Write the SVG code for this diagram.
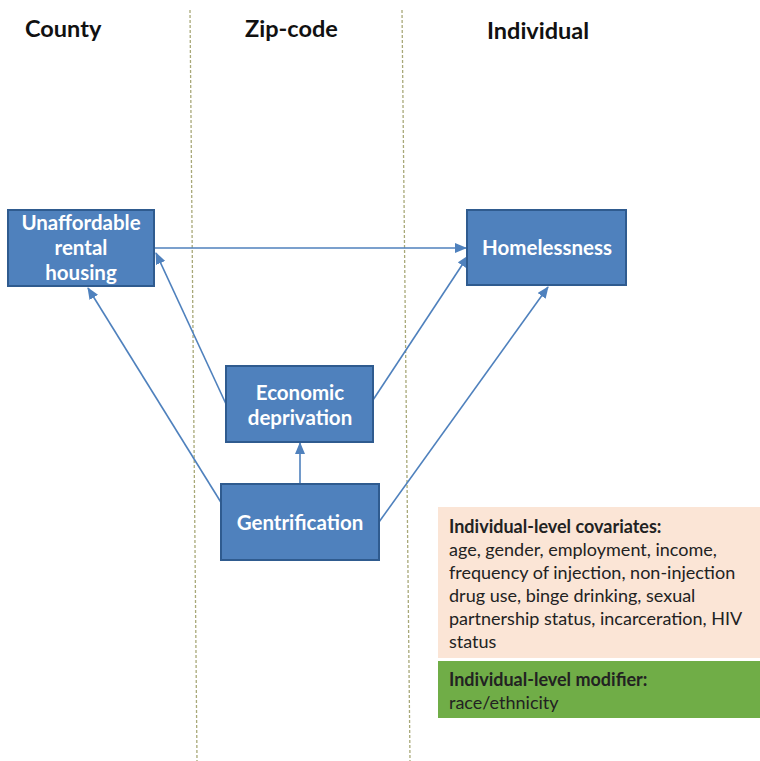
<svg xmlns="http://www.w3.org/2000/svg" width="760" height="761" viewBox="0 0 760 761">
<style>
.hdr{font-family:Lato,"Liberation Sans",sans-serif;font-weight:bold;font-size:23.5px;fill:#111}
.box{fill:#4f81bd;stroke:#2f5b8f;stroke-width:2}
.bt{font-family:Lato,"Liberation Sans",sans-serif;font-weight:bold;font-size:20.5px;fill:#fff;text-anchor:middle}
.ln{stroke:#4f81bd;stroke-width:1.6;fill:none;marker-end:url(#ah)}
.dv{stroke:#a8a878;stroke-width:1.3;stroke-dasharray:3 2;fill:none}
.ct{font-family:Lato,"Liberation Sans",sans-serif;font-size:18px;fill:#222}
.cb{font-weight:bold}
</style>
<defs>
<marker id="ah" viewBox="0 0 12 10" refX="11" refY="5" markerWidth="12" markerHeight="10" markerUnits="userSpaceOnUse" orient="auto">
<path d="M0,0 L12,5 L0,10 Z" fill="#4f81bd"/>
</marker>
</defs>
<rect width="760" height="761" fill="#fff"/>
<g id="dividers">
<line class="dv" x1="190" y1="10" x2="197" y2="761"/>
<line class="dv" x1="402" y1="10" x2="410" y2="761"/>
</g>
<g id="headers">
<text class="hdr" x="25" y="37">County</text>
<text class="hdr" x="245" y="37">Zip-code</text>
<text class="hdr" x="487" y="39">Individual</text>
</g>
<g id="connectors">
<line class="ln" x1="154" y1="248" x2="466" y2="248"/>
<line class="ln" x1="222" y1="504" x2="88" y2="288"/>
<line class="ln" x1="226" y1="404" x2="156" y2="253"/>
<line class="ln" x1="373" y1="400" x2="468" y2="256"/>
<line class="ln" x1="379" y1="522" x2="548" y2="287"/>
<line class="ln" x1="300" y1="484" x2="300" y2="443"/>
</g>
<g id="n-unaffordable">
<rect class="box" x="8" y="210" width="146" height="76"/>
<text class="bt" x="81" y="230">Unaffordable</text>
<text class="bt" x="81" y="255">rental</text>
<text class="bt" x="81" y="280">housing</text>
</g>
<g id="n-homelessness">
<rect class="box" x="467" y="210" width="159" height="75"/>
<text class="bt" x="547" y="255" font-size="21.5">Homelessness</text>
</g>
<g id="n-economic">
<rect class="box" x="226" y="366" width="147" height="76"/>
<text class="bt" x="300" y="400">Economic</text>
<text class="bt" x="300" y="425">deprivation</text>
</g>
<g id="n-gentrification">
<rect class="box" x="221" y="484" width="158" height="76"/>
<text class="bt" x="300" y="530">Gentrification</text>
</g>
<g id="covariates">
<rect x="438" y="507" width="322" height="151" fill="#fbe5d6"/>
<text class="ct" x="449" y="533"><tspan class="cb">Individual-level covariates:</tspan></text>
<text class="ct" x="449" y="556">age, gender, employment, income,</text>
<text class="ct" x="449" y="579">frequency of injection, non-injection</text>
<text class="ct" x="449" y="602">drug use, binge drinking, sexual</text>
<text class="ct" x="449" y="625">partnership status, incarceration, HIV</text>
<text class="ct" x="449" y="648">status</text>
</g>
<g id="modifier">
<rect x="438" y="661" width="322" height="57" fill="#70ad47"/>
<text class="ct" x="449" y="686"><tspan class="cb">Individual-level modifier:</tspan></text>
<text class="ct" x="449" y="709">race/ethnicity</text>
</g>
</svg>
